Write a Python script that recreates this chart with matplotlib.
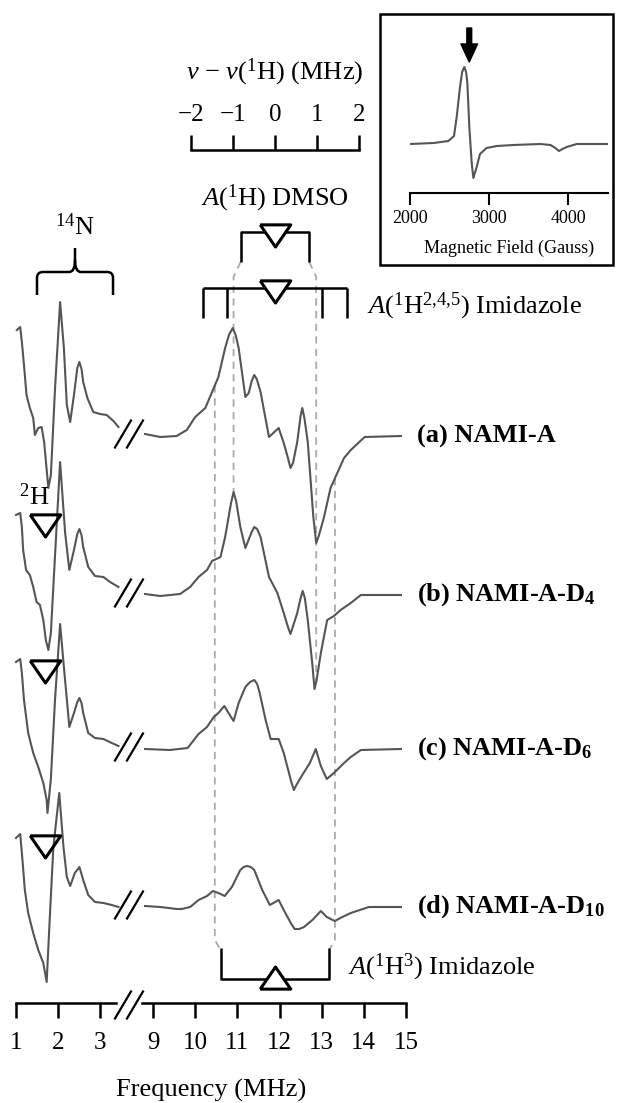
import numpy as np
import matplotlib
matplotlib.use('Agg')
import matplotlib.pyplot as plt
from matplotlib.path import Path
from matplotlib.patches import PathPatch, Rectangle

plt.rcParams['font.family'] = ['Liberation Serif', 'DejaVu Serif']
plt.rcParams['mathtext.fontset'] = 'custom'
plt.rcParams['mathtext.rm'] = 'Liberation Serif'
plt.rcParams['mathtext.it'] = 'Liberation Serif:italic'
plt.rcParams['mathtext.bf'] = 'Liberation Serif:bold'

# --- data (frequency in MHz, intensity in arb. units) ---
sample_labels = ['(a) NAMI-A', r'(b) NAMI-A-D$_{\mathbf{4}}$',
                 r'(c) NAMI-A-D$_{\mathbf{6}}$', r'(d) NAMI-A-D$_{\mathbf{10}}$']

# low-frequency (14N / 2H) part of each trace
a_lo_f = [1.02, 1.10, 1.14, 1.19, 1.25, 1.33, 1.41, 1.45, 1.53, 1.61, 1.67, 1.77, 1.83, 1.93,
          2.05, 2.14, 2.21, 2.29, 2.38, 2.46, 2.51, 2.56, 2.60, 2.70, 2.84, 3.00, 3.16, 3.32, 3.44]
a_lo_y = [106, 109, 94, 71, 41, 28, 18, 1, 8, 9, -6, -52, -39, 48,
          134, 88, 31, 14, 41, 68, 74, 67, 54, 38, 24, 22, 21, 15, 9]
b_lo_f = [1.00, 1.10, 1.14, 1.17, 1.24, 1.33, 1.41, 1.49, 1.57, 1.65, 1.71, 1.77, 1.83, 1.93,
          2.05, 2.17, 2.27, 2.38, 2.46, 2.51, 2.56, 2.60, 2.72, 2.88, 3.08, 3.24, 3.44]
b_lo_y = [80, 82, 68, 45, 25, 20, 8, -7, -10, -25, -45, -55, -38, 40,
          133, 62, 25, 45, 61, 66, 60, 48, 28, 19, 18, 13, 8]
c_lo_f = [1.00, 1.10, 1.14, 1.19, 1.29, 1.41, 1.53, 1.65, 1.73, 1.75, 1.83, 1.93,
          2.05, 2.14, 2.27, 2.38, 2.46, 2.51, 2.56, 2.60, 2.72, 2.88, 3.08, 3.28, 3.44]
c_lo_y = [87, 90, 76, 49, 16, -4, -18, -34, -51, -64, -30, 50,
          125, 82, 22, 36, 47, 51, 46, 36, 16, 11, 10, 6, 3]
d_lo_f = [1.00, 1.10, 1.16, 1.21, 1.29, 1.41, 1.53, 1.65, 1.73, 1.81, 1.89,
          2.03, 2.13, 2.21, 2.29, 2.40, 2.51, 2.60, 2.72, 2.88, 3.08, 3.28, 3.44]
d_lo_y = [69, 73, 44, 17, -6, -26, -43, -56, -75, -6, 60,
          114, 60, 30, 21, 34, 40, 27, 12, 5, 4, 2, 0]

# proton part of each trace
a_hi_f = [8.81, 9.17, 9.56, 9.80, 10.00, 10.24, 10.44, 10.55, 10.71, 10.80, 10.89, 10.96, 11.03,
          11.19, 11.27, 11.34, 11.40, 11.46, 11.55, 11.75, 11.98, 12.10, 12.20, 12.26, 12.32,
          12.42, 12.50, 12.54, 12.59, 12.67, 12.80, 12.87, 12.93, 13.05, 13.21, 13.53, 13.69,
          14.02, 14.88]
a_hi_y = [2, -1, 0, 6, 19, 28, 48, 59, 88, 101, 108, 101, 88,
          39, 43, 55, 61, 57, 44, -1, 8, -7, -22, -32, -27,
          -6, 20, 28, 18, -6, -80, -107, -100, -82, -52, -22, -14,
          -1, 0]
b_hi_f = [8.81, 9.17, 9.64, 9.88, 10.08, 10.28, 10.40, 10.60, 10.71, 10.85, 10.91, 10.97, 11.07,
          11.19, 11.33, 11.40, 11.47, 11.55, 11.75, 11.95, 12.10, 12.20, 12.26, 12.33, 12.42,
          12.50, 12.55, 12.60, 12.67, 12.78, 12.83, 12.88, 12.98, 13.13, 13.29, 13.45, 13.69,
          13.93, 14.88]
b_hi_y = [1, -1, 1, 8, 18, 25, 34, 38, 58, 92, 103, 94, 68,
          47, 62, 68, 66, 58, 18, 2, -18, -32, -39, -30, -18,
          -3, 4, -3, -25, -70, -94, -85, -58, -25, -21, -15, -8,
          0, 0]
c_hi_f = [8.81, 9.40, 9.82, 10.08, 10.28, 10.44, 10.55, 10.69, 10.82, 10.91, 11.03, 11.19, 11.30,
          11.40, 11.47, 11.53, 11.67, 11.79, 11.98, 12.10, 12.28, 12.34, 12.40, 12.54, 12.72,
          12.86, 12.98, 13.12, 13.29, 13.53, 13.69, 13.93, 14.88]
c_hi_y = [0, -1, 1, 15, 22, 32, 36, 43, 34, 28, 46, 62, 67,
          69, 65, 56, 29, 10, 10, -4, -33, -41, -36, -26, -14,
          0, -17, -30, -24, -14, -8, -1, 0]
d_hi_f = [8.81, 9.17, 9.56, 9.68, 9.88, 10.08, 10.28, 10.42, 10.55, 10.70, 10.87, 11.07, 11.15,
          11.23, 11.32, 11.40, 11.59, 11.77, 11.98, 12.10, 12.28, 12.36, 12.47, 12.58, 12.78,
          12.98, 13.12, 13.31, 13.49, 13.69, 14.12, 14.88]
d_hi_y = [1, 0, -2, -2, 0, 7, 11, 16, 14, 11, 20, 37, 40,
          41, 40, 37, 17, 2, 7, -3, -17, -22, -22, -20, -13,
          -4, -10, -14, -10, -6, 0, 0]

# couplings (MHz) and Larmor frequencies
nu_H = 11.89
nu_D = 1.70
A_dmso = 1.63
A_im245 = [2.25, 3.43]
A_im3 = 2.57
A_dash_inner = 1.96
A_dash_outer = 2.85
n14_span = (1.50, 3.31)

# EPR inset
field_G = [2000, 2300, 2485, 2557, 2591, 2633, 2660, 2688, 2710, 2726, 2751, 2781, 2802,
           2844, 2886, 2970, 3100, 3311, 3650, 3778, 3840, 3886, 3930, 3983, 4110, 4500]
epr_sig = [0, 1, 3, 8, 27, 57, 72, 77, 72, 61, 17, -19, -34,
           -23, -10, -4, -2, -1, 0, -1, -4, -7, -5, -3, 0, 0]
field_ticks = [2000, 3000, 4000]

# --- layout ---
W, H = 625, 1103
TRACE = '#555555'
fig = plt.figure(figsize=(W / 100, H / 100), dpi=100)

def fx(x):
    return x / W

def fy(y):
    return 1 - y / H

ax_l = fig.add_axes([fx(16), 0, fx(100), 1])
ax_r = fig.add_axes([fx(142), 0, fx(264), 1])
for ax, lim, ticks in ((ax_l, (1, 3.381), [1, 2, 3]), (ax_r, (8.738, 15), list(range(9, 16)))):
    ax.set_xlim(*lim)
    ax.set_ylim(0, H)
    ax.patch.set_visible(False)
    for s in ('left', 'right', 'top'):
        ax.spines[s].set_visible(False)
    ax.spines['bottom'].set_position(('data', H - 1003))
    ax.spines['bottom'].set_linewidth(1.8)
    ax.set_xticks(ticks)
    ax.set_yticks([])
    ax.tick_params(axis='x', direction='out', length=11, width=1.8, pad=10, labelsize=18)

fig.text(fx(211), fy(1090), 'Frequency (MHz)', ha='center', va='center', fontsize=19)

offsets = [H - 436, H - 595, H - 749, H - 907]
lows = [(a_lo_f, a_lo_y), (b_lo_f, b_lo_y), (c_lo_f, c_lo_y), (d_lo_f, d_lo_y)]
highs = [(a_hi_f, a_hi_y), (b_hi_f, b_hi_y), (c_hi_f, c_hi_y), (d_hi_f, d_hi_y)]
LINE = dict(color=TRACE, lw=1.5, clip_on=False, zorder=2, solid_joinstyle='round')


def break_mark(y0):
    for x0 in (3.357, 3.643):
        ax_l.plot([x0, x0 + 0.38], [y0 - 13.5, y0 + 13.5], color='black', lw=1.6, clip_on=False)


for off, (lf, ly), (hf, hy), lab in zip(offsets, lows, highs, sample_labels):
    ax_l.plot(lf, off + np.array(ly), **LINE)
    ax_r.plot(hf, off + np.array(hy), **LINE)
    break_mark(off + 2)
    ax_r.text(15.26, off, lab, ha='left', va='center', fontsize=19, fontweight='bold')
break_mark(H - 1005)

tri_down = [(-1, 0.5), (1, 0.5), (0, -0.95), (-1, 0.5)]
tri_up = [(-1, -0.5), (1, -0.5), (0, 0.95), (-1, -0.5)]

# 2H markers on the deuterated samples
for off, (lf, ly) in zip(offsets[1:], lows[1:]):
    ax_l.plot(nu_D, off + ly[1] - 9, marker=tri_down, ms=22, mfc='none', mec='black',
              mew=2.2, clip_on=False, zorder=4)
ax_l.text(1.43, H - 497, r'$^{2}$H', ha='center', va='center', fontsize=19)

# 14N brace
y_end, y_bar, y_tip = H - 295, H - 272, H - 248
x0, x1 = n14_span
xm = 0.5 * (x0 + x1)
verts = [(x0, y_end), (x0, y_bar - 6), (x0, y_bar), (x0 + 0.14, y_bar), (xm - 0.14, y_bar),
         (xm, y_bar), (xm, y_bar + 12), (xm, y_tip),
         (xm, y_bar + 12), (xm, y_bar), (xm + 0.14, y_bar), (x1 - 0.14, y_bar),
         (x1, y_bar), (x1, y_bar - 6), (x1, y_end)]
codes = [Path.MOVETO, Path.LINETO, Path.CURVE3, Path.CURVE3, Path.LINETO,
         Path.CURVE3, Path.CURVE3, Path.LINETO,
         Path.MOVETO, Path.CURVE3, Path.CURVE3, Path.LINETO,
         Path.CURVE3, Path.CURVE3, Path.LINETO]
ax_l.add_patch(PathPatch(Path(verts, codes), fill=False, lw=1.8, ec='black', clip_on=False))
ax_l.text(xm, H - 227, r'$^{14}$N', ha='center', va='center', fontsize=19)

# proton brackets
BR = dict(color='black', lw=1.8, clip_on=False, solid_capstyle='butt')
y_dm, y_dm_leg = H - 232, H - 262
fl, fr = nu_H - A_dmso / 2, nu_H + A_dmso / 2
ax_r.plot([fl, fl, fr, fr], [y_dm_leg, y_dm, y_dm, y_dm_leg], **BR)
ax_r.plot(nu_H, y_dm, marker=tri_down, ms=22, mfc='white', mec='black', mew=2.2, clip_on=False, zorder=4)
ax_r.text(nu_H, H - 198, r'$A$($^{1}$H) DMSO', ha='center', va='center', fontsize=19)

y_im, y_im_leg = H - 288, H - 318
for A in A_im245:
    for s in (-1, 1):
        ax_r.plot([nu_H + s * A / 2] * 2, [y_im, y_im_leg], **BR)
ax_r.plot([nu_H - A_im245[1] / 2, nu_H + A_im245[1] / 2], [y_im, y_im], **BR)
ax_r.plot(nu_H, y_im, marker=tri_down, ms=22, mfc='white', mec='black', mew=2.2, clip_on=False, zorder=4)
ax_r.text(14.07, H - 306, r'$A$($^{1}$H$^{2{,}4{,}5}$) Imidazole', ha='left', va='center', fontsize=19)

y_i3, y_i3_leg = H - 979, H - 948
gl, gr = nu_H - A_im3 / 2, nu_H + A_im3 / 2
ax_r.plot([gl, gl, gr, gr], [y_i3_leg, y_i3, y_i3, y_i3_leg], **BR)
ax_r.plot(nu_H, y_i3 - 2, marker=tri_up, ms=22, mfc='white', mec='black', mew=2.2, clip_on=False, zorder=4)
ax_r.text(13.62, H - 967, r'$A$($^{1}$H$^{3}$) Imidazole', ha='left', va='center', fontsize=19)

# dashed guide lines
DS = dict(color='#aaaaaa', lw=1.3, ls=(0, (4, 3)), clip_on=False, zorder=1)
for s, f_leg in ((-1, fl), (1, fr)):
    f_d = nu_H + s * A_dash_inner / 2
    y_end_b = offsets[1] + np.interp(f_d, b_hi_f, b_hi_y)
    ax_r.plot([f_leg, f_d, f_d], [y_dm_leg, H - 277, y_end_b], **DS)
for s, f_leg in ((-1, gl), (1, gr)):
    f_d = nu_H + s * A_dash_outer / 2
    y_start_a = offsets[0] + np.interp(f_d, a_hi_f, a_hi_y)
    ax_r.plot([f_d, f_d, f_leg], [y_start_a, H - 940, H - 950], **DS)

# top relative-frequency scale, aligned with the frequency axis
pos_r = ax_r.get_position()
xl0, xl1 = ax_r.get_xlim()
def f2fig(f):
    return pos_r.x0 + (f - xl0) / (xl1 - xl0) * pos_r.width
ax_top = fig.add_axes([f2fig(nu_H - 2), fy(150) - 0.01, f2fig(nu_H + 2) - f2fig(nu_H - 2), 0.01])
ax_top.set_xlim(-2, 2)
ax_top.patch.set_visible(False)
for s in ('left', 'right', 'bottom'):
    ax_top.spines[s].set_visible(False)
ax_top.spines['top'].set_linewidth(1.8)
ax_top.set_yticks([])
ax_top.set_xticks([-2, -1, 0, 1, 2])
ax_top.tick_params(axis='x', top=True, bottom=False, labeltop=True, labelbottom=False,
                   direction='out', length=11, width=1.8, pad=6, labelsize=18)
ax_top.xaxis.set_label_position('top')
ax_top.set_xlabel(r'$\nu$ − $\nu$($^{1}$H) (MHz)', fontsize=19, labelpad=18)

# EPR inset
fig.add_artist(Rectangle((fx(380), fy(265)), fx(233), 251 / H, transform=fig.transFigure,
                         fill=False, lw=1.8, ec='black'))
ax_in = fig.add_axes([fx(410), fy(193), fx(197.5), (193 - 20) / H])
ax_in.plot(field_G, epr_sig, color=TRACE, lw=1.5, solid_joinstyle='round')
ax_in.set_xlim(2000, 4500)
ax_in.set_ylim(-49, 124)
ax_in.patch.set_visible(False)
for s in ('left', 'right', 'top'):
    ax_in.spines[s].set_visible(False)
ax_in.spines['bottom'].set_linewidth(1.5)
ax_in.set_yticks([])
ax_in.set_xticks(field_ticks)
ax_in.tick_params(axis='x', direction='out', length=8.5, width=1.5, pad=4, labelsize=13)
ax_in.set_xlabel('Magnetic Field (Gauss)', fontsize=13, labelpad=9)
ax_in.annotate('', xy=(2750, 82), xytext=(2750, 116), annotation_clip=False,
               arrowprops=dict(facecolor='black', edgecolor='black', width=3.5,
                               headwidth=12, headlength=13))

fig.savefig('out.png', dpi=100)
